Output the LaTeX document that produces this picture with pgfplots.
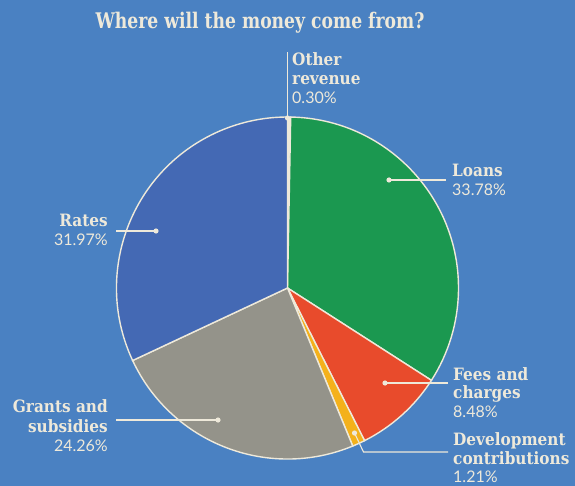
\documentclass[border=0pt]{standalone}
\usepackage{pgfplots}
\usepackage{pgfplotstable}
\pgfplotsset{compat=1.18}
\usepackage{fontspec}
\setmainfont{Lato}
\newfontfamily\serfont{DejaVu Serif}[FakeStretch=0.9]
\newfontfamily\titfont{DejaVu Serif}[FakeStretch=0.8]
\newcommand\nm{\serfont\bfseries\fontsize{17}{19}\selectfont}
\newcommand\pc{\fontsize{16}{19}\selectfont}
\definecolor{bg}{HTML}{4A81C2}
\definecolor{crates}{HTML}{4469B4}
\definecolor{cloans}{HTML}{1B9850}
\definecolor{cfees}{HTML}{E84B2C}
\definecolor{cdev}{HTML}{F4B11B}
\definecolor{cgrants}{HTML}{94938A}
\definecolor{cream}{HTML}{EEE9DA}
\pgfplotstableread{
name value
Other 0.30
Loans 33.78
Fees 8.48
Dev 1.21
Grants 24.26
Rates 31.97
}\pietable
\begin{document}
\begin{tikzpicture}
\pgfplotstablegetelem{0}{value}\of\pietable \let\vA\pgfplotsretval
\pgfplotstablegetelem{1}{value}\of\pietable \let\vB\pgfplotsretval
\pgfplotstablegetelem{2}{value}\of\pietable \let\vC\pgfplotsretval
\pgfplotstablegetelem{3}{value}\of\pietable \let\vD\pgfplotsretval
\pgfplotstablegetelem{4}{value}\of\pietable \let\vE\pgfplotsretval
\pgfplotstablegetelem{5}{value}\of\pietable \let\vF\pgfplotsretval
\pgfmathsetmacro\aA{90}
\pgfmathsetmacro\aB{\aA-3.6*\vA}
\pgfmathsetmacro\aC{\aB-3.6*\vB}
\pgfmathsetmacro\aD{\aC-3.6*\vC}
\pgfmathsetmacro\aE{\aD-3.6*\vD}
\pgfmathsetmacro\aF{\aE-3.6*\vE}
\pgfmathsetmacro\aG{\aF-3.6*\vF}
\begin{axis}[scale only axis, width=575pt, height=486pt,
  xmin=0, xmax=575, ymin=0, ymax=486, y dir=reverse,
  hide axis, clip=false]
\fill[bg] (axis cs:0,0) rectangle (axis cs:575,486);
\def\R{171pt}
\coordinate (c) at (axis cs:287.5,288);
\filldraw[fill=cream, draw=cream, line width=1.4pt] (c) -- ++(\aA:\R) arc[start angle=\aA, end angle=\aB, radius=\R] -- cycle;
\filldraw[fill=cloans, draw=cream, line width=1.4pt] (c) -- ++(\aB:\R) arc[start angle=\aB, end angle=\aC, radius=\R] -- cycle;
\filldraw[fill=cfees, draw=cream, line width=1.4pt] (c) -- ++(\aC:\R) arc[start angle=\aC, end angle=\aD, radius=\R] -- cycle;
\filldraw[fill=cdev, draw=cream, line width=1.4pt] (c) -- ++(\aD:\R) arc[start angle=\aD, end angle=\aE, radius=\R] -- cycle;
\filldraw[fill=cgrants, draw=cream, line width=1.4pt] (c) -- ++(\aE:\R) arc[start angle=\aE, end angle=\aF, radius=\R] -- cycle;
\filldraw[fill=crates, draw=cream, line width=1.4pt] (c) -- ++(\aF:\R) arc[start angle=\aF, end angle=\aG, radius=\R] -- cycle;
% leader lines
\begin{scope}[cream, line width=1.1pt]
\draw (axis cs:287.5,118) -- (axis cs:287.5,52);
\fill (axis cs:287.5,118) circle (2.6pt);
\draw (axis cs:389,180) -- (axis cs:446,180);
\fill (axis cs:389,180) circle (2.6pt);
\draw (axis cs:156,231) -- (axis cs:116,231);
\fill (axis cs:156,231) circle (2.6pt);
\draw (axis cs:385,383) -- (axis cs:448,383);
\fill (axis cs:385,383) circle (2.6pt);
\draw (axis cs:354.5,433) -- (axis cs:363.5,452) -- (axis cs:448,452);
\fill (axis cs:354.5,433) circle (2.6pt);
\draw (axis cs:218,420) -- (axis cs:116,420);
\fill (axis cs:218,420) circle (2.6pt);
\end{scope}
% title
\node[anchor=base, text=cream, font={\titfont\bfseries\fontsize{21.5}{24}\selectfont}] at (axis cs:260,29) {Where will the money come from?};
% labels
\begin{scope}[every node/.style={text=cream, inner sep=0pt}]
\node[anchor=base west] at (axis cs:292,66) {\nm Other};
\node[anchor=base west] at (axis cs:292,85) {\nm revenue};
\node[anchor=base west] at (axis cs:292,104) {\pc 0.30\%};
\node[anchor=base west] at (axis cs:452,177) {\nm Loans};
\node[anchor=base west] at (axis cs:452,196) {\pc 33.78\%};
\node[anchor=base east] at (axis cs:108,227) {\nm Rates};
\node[anchor=base east] at (axis cs:108,246) {\pc 31.97\%};
\node[anchor=base west] at (axis cs:453,380) {\nm Fees and};
\node[anchor=base west] at (axis cs:453,398) {\nm charges};
\node[anchor=base west] at (axis cs:453,417) {\pc 8.48\%};
\node[anchor=base west] at (axis cs:453,445) {\nm Development};
\node[anchor=base west] at (axis cs:453,464) {\nm contributions};
\node[anchor=base west] at (axis cs:453,482) {\pc 1.21\%};
\node[anchor=base east] at (axis cs:108,412) {\nm Grants and};
\node[anchor=base east] at (axis cs:108,432) {\nm subsidies};
\node[anchor=base east] at (axis cs:108,451) {\pc 24.26\%};
\end{scope}
\end{axis}
\end{tikzpicture}
\end{document}
